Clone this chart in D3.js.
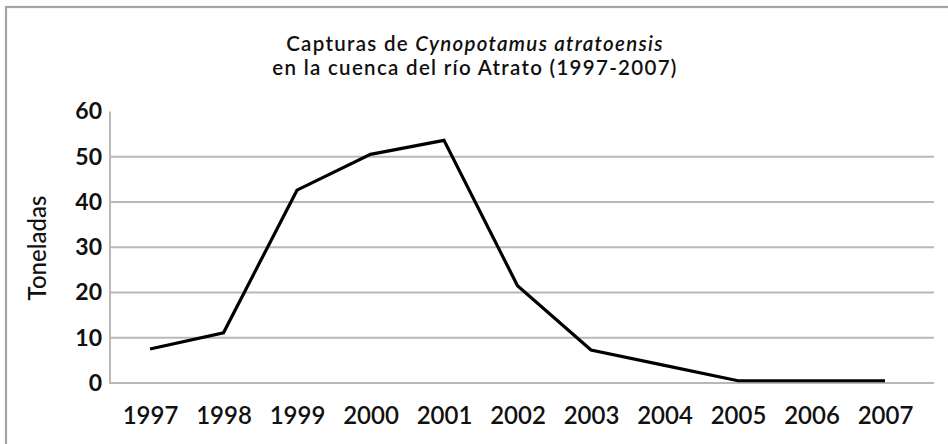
<!DOCTYPE html>
<html>
<head>
<meta charset="utf-8">
<script src="https://cdn.jsdelivr.net/npm/d3@7"></script>
<style>
  html, body { margin: 0; padding: 0; background: #fff; }
  svg { display: block; }
  text { font-family: Lato, "Open Sans", sans-serif; fill: #111; }
</style>
</head>
<body>
<svg id="chart" width="948" height="444"></svg>
<script>
const years = ["1997","1998","1999","2000","2001","2002","2003","2004","2005","2006","2007"];
const toneladas = [7.5, 11.1, 42.6, 50.5, 53.6, 21.5, 7.3, 3.9, 0.5, 0.5, 0.5];
const yTicks = [0, 10, 20, 30, 40, 50, 60];
const titleLine1 = ["Capturas de", "Cynopotamus atratoensis"];
const titleLine2 = "en la cuenca del río Atrato (1997-2007)";
const yLabel = "Toneladas";

const svg = d3.select("#chart");
const W = 948, H = 444;

// outer frame (top and left visible)
svg.append("rect")
  .attr("x", 6).attr("y", 7)
  .attr("width", W + 10).attr("height", H + 10)
  .attr("fill", "none").attr("stroke", "#a3a3a3").attr("stroke-width", 2.2);

const plot = { left: 110, right: 934, top: 111.4, bottom: 383 };

const x = d3.scalePoint().domain(years).range([150, 885]);
const y = d3.scaleLinear().domain([0, 60]).range([plot.bottom, plot.top]);

// gridlines
svg.append("g")
  .selectAll("line")
  .data(yTicks.filter(d => d > 0 && d < 60))
  .join("line")
  .attr("x1", plot.left).attr("x2", plot.right)
  .attr("y1", d => y(d)).attr("y2", d => y(d))
  .attr("stroke", "#b8b8b8").attr("stroke-width", 2);

// baseline (0)
svg.append("line")
  .attr("x1", plot.left).attr("x2", plot.right)
  .attr("y1", y(0)).attr("y2", y(0))
  .attr("stroke", "#b8b8b8").attr("stroke-width", 2);

// y axis line
svg.append("line")
  .attr("x1", plot.left).attr("x2", plot.left)
  .attr("y1", y(60)).attr("y2", y(0) + 1)
  .attr("stroke", "#b8b8b8").attr("stroke-width", 2);

// y tick labels
const yAxis = d3.axisLeft(y).tickValues(yTicks).tickSize(0).tickPadding(8);
const gy = svg.append("g").attr("transform", `translate(${plot.left},0)`).call(yAxis);
gy.select(".domain").remove();
gy.selectAll("text")
  .style("font-family", "Lato, sans-serif")
  .style("font-size", "23px")
  .style("font-weight", "700")
  .attr("fill", "#111");

// x tick labels
const xAxis = d3.axisBottom(x).tickSize(0).tickPadding(24);
const gx = svg.append("g").attr("transform", `translate(0,${plot.bottom})`).call(xAxis);
gx.select(".domain").remove();
gx.selectAll("text")
  .style("font-family", "Lato, sans-serif")
  .style("font-size", "24px")
  .style("font-weight", "600")
  .attr("fill", "#111");

// line
const line = d3.line().x((d, i) => x(years[i])).y(d => y(d));
svg.append("path")
  .datum(toneladas)
  .attr("d", line)
  .attr("fill", "none")
  .attr("stroke", "#000")
  .attr("stroke-width", 3.2)
  .attr("stroke-linejoin", "miter");

// y label
svg.append("text")
  .attr("transform", "translate(46,248) rotate(-90)")
  .attr("text-anchor", "middle")
  .style("font-size", "24px")
  .style("font-weight", "500")
  .text(yLabel);

// title line 1: two separate text pieces, laid out side by side
const tSize = 20.5;
const ls = "1.3px";
const a = svg.append("text")
  .attr("y", 51)
  .style("font-size", tSize + "px").style("font-weight", "600").style("letter-spacing", ls)
  .text(titleLine1[0]);
const b = svg.append("text")
  .attr("y", 51)
  .style("font-size", tSize + "px").style("font-weight", "600").style("font-style", "italic").style("letter-spacing", ls)
  .text(titleLine1[1]);
const gap = tSize * 0.3;
const wa = a.node().getComputedTextLength();
const wb = b.node().getComputedTextLength();
const startX = 475 - (wa + gap + wb) / 2;
a.attr("x", startX);
b.attr("x", startX + wa + gap);

svg.append("text")
  .attr("x", 475).attr("y", 75)
  .attr("text-anchor", "middle")
  .style("font-size", tSize + "px")
  .style("font-weight", "600")
  .style("letter-spacing", ls)
  .text(titleLine2);
</script>
</body>
</html>
